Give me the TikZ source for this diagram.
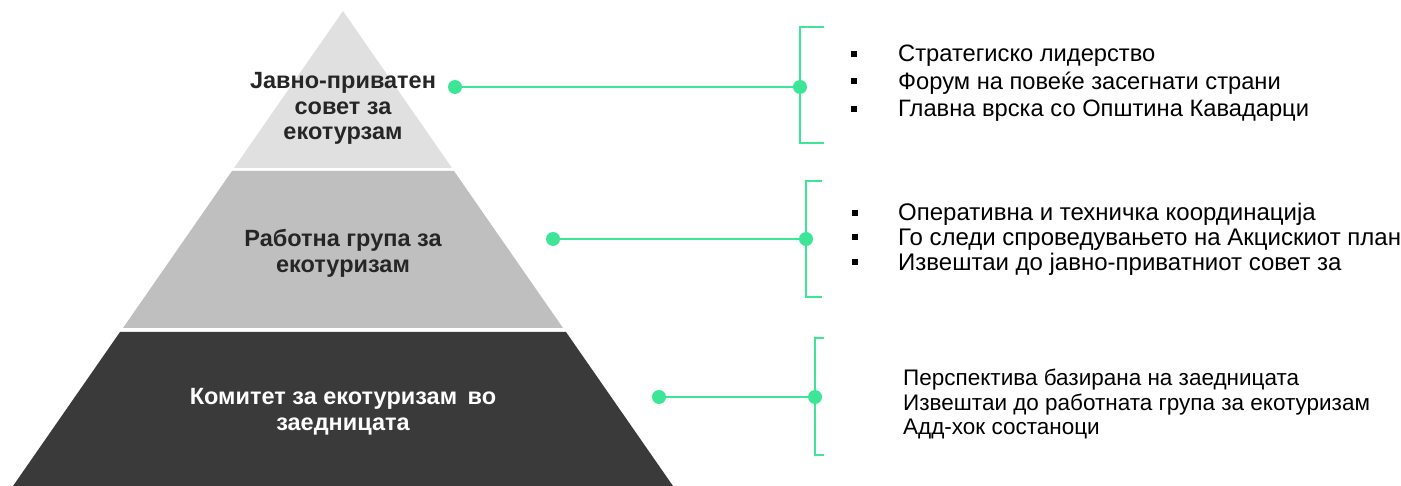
\documentclass[tikz,border=0pt]{standalone}
\usepackage{fontspec}
\setmainfont{Liberation Sans}
\definecolor{grn}{RGB}{60,230,150}
\definecolor{lvlA}{RGB}{224,224,224}
\definecolor{lvlB}{RGB}{191,191,191}
\definecolor{lvlC}{RGB}{58,58,58}
\definecolor{darktxt}{RGB}{38,38,38}
\tikzset{
  dot/.style={circle,fill=grn,inner sep=0pt,minimum size=14pt},
  conn/.style={draw=grn,line width=2pt},
  lvllabel/.style={anchor=base,inner sep=0pt,font=\bfseries\fontsize{23.5}{25.5}\selectfont},
  listtext/.style={anchor=base west,inner sep=0pt,text=black}
}
\newcommand{\sqbul}{\raisebox{0.22em}{\rule{6pt}{6pt}}}
\begin{document}
\begin{tikzpicture}[x=1pt,y=-1pt]
\useasboundingbox (0,0) rectangle (1401,486);
% pyramid
\fill[lvlA] (343,11) -- (452,168) -- (234,168) -- cycle;
\fill[lvlB] (232,171) -- (454,171) -- (563,328) -- (123,328) -- cycle;
\fill[lvlC] (120,332) -- (566,332) -- (673,486) -- (13,486) -- cycle;
% labels
\node[lvllabel,text=darktxt] (t1) at (343,89) {\begin{tabular}[t]{@{}c@{}}Јавно-приватен\\совет за\\екотурзам\end{tabular}};
\node[lvllabel,text=darktxt] (t2) at (343,247) {\begin{tabular}[t]{@{}c@{}}Работна група за\\екотуризам\end{tabular}};
\node[lvllabel,text=white] (t3) at (343,405) {\begin{tabular}[t]{@{}c@{}}Комитет за екотуризам\hspace{4pt} во\\заедницата\end{tabular}};
% connectors
\node[dot] (a1) at (455,87) {};
\node[dot] (b1) at (800,87) {};
\node[dot] (a2) at (553,239) {};
\node[dot] (b2) at (806,239) {};
\node[dot] (a3) at (659,397) {};
\node[dot] (b3) at (815,397) {};
\draw[conn] (a1) -- (b1);
\draw[conn] (a2) -- (b2);
\draw[conn] (a3) -- (b3);
% brackets
\coordinate (u1) at (824,27); \coordinate (v1) at (824,143);
\coordinate (u2) at (822,181); \coordinate (v2) at (822,297);
\coordinate (u3) at (824,338); \coordinate (v3) at (824,455);
\draw[conn] (u1) -| (b1.center) |- (v1);
\draw[conn] (u2) -| (b2.center) |- (v2);
\draw[conn] (u3) -| (b3.center) |- (v3);
% lists
\node[listtext] (l1) at (851,62) {\fontsize{23.7}{27.4}\selectfont
\begin{tabular}[t]{@{}p{47pt}@{}l@{}}
\sqbul & Стратегиско лидерство\\
\sqbul & Форум на повеќе засегнати страни\\
\sqbul & Главна врска со Општина Кавадарци
\end{tabular}};
\node[listtext] (l2) at (852,221) {\fontsize{24}{24.5}\selectfont
\begin{tabular}[t]{@{}p{46pt}@{}l@{}}
\sqbul & Оперативна и техничка координација\\
\sqbul & Го следи спроведувањето на Акцискиот план\\
\sqbul & Извештаи до јавно-приватниот совет за
\end{tabular}};
\node[listtext] (l3) at (903,385) {\fontsize{22.5}{25}\selectfont
\begin{tabular}[t]{@{}l@{}}
Перспектива базирана на заедницата\\
Извештаи до работната група за екотуризам\\
Адд-хок состаноци
\end{tabular}};
\end{tikzpicture}
\end{document}
